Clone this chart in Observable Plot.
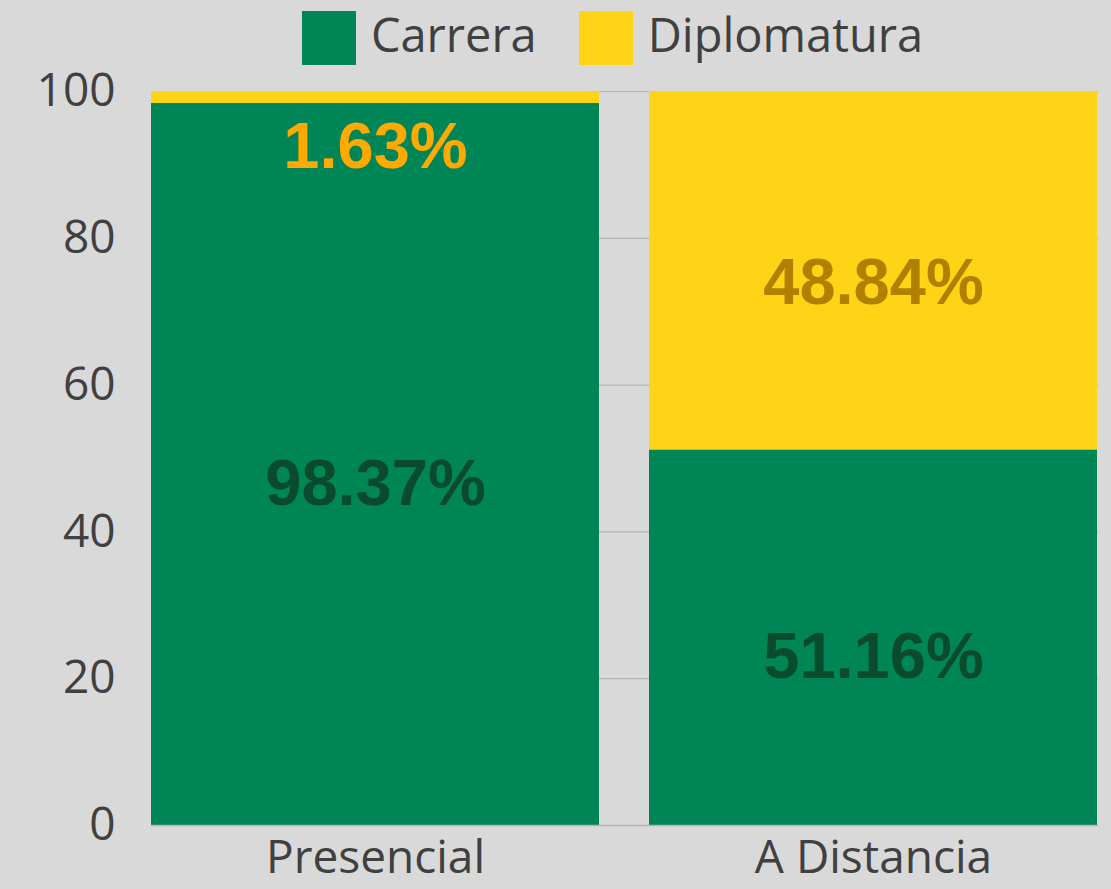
<!DOCTYPE html>
<html>
<head>
<meta charset="utf-8">
<script src="https://cdn.jsdelivr.net/npm/d3@7"></script>
<script src="https://cdn.jsdelivr.net/npm/@observablehq/plot@0.6"></script>
<style>
  html, body { margin: 0; padding: 0; background: #d9d9d9; width: 1111px; height: 889px; overflow: hidden; }
  #wrap { position: relative; width: 1111px; height: 889px; }
  #legend { position: absolute; left: 0; top: 0; width: 1111px; height: 76px; box-sizing: border-box; padding-left: 151px; padding-right: 37px; display: flex; justify-content: center; align-items: center; font-family: "Open Sans", sans-serif; font-size: 47px; color: #404040; z-index: 2; }
  .item { display: flex; align-items: center; }
  .sw { width: 54px; height: 54px; margin-right: 15px; }
  .item + .item { margin-left: 42px; }
  .lbl { position: relative; top: -4px; }
</style>
</head>
<body>
<div id="wrap">
<div id="legend"></div>
<div id="chart"></div>
</div>
<script>
const modes = ["Presencial", "A Distancia"];
const categories = ["Carrera", "Diplomatura"];
const carrera = [98.37, 51.16];
const diplomatura = [1.63, 48.84];
const yTicks = [0, 20, 40, 60, 80, 100];

const colors = {Carrera: "#008556", Diplomatura: "#ffd316"};
const labelColors = {Carrera: "#0a4a2d", Diplomatura: "#b08000"};

const rows = [];
modes.forEach((m, i) => {
  rows.push({mode: m, cat: "Carrera", value: carrera[i]});
  rows.push({mode: m, cat: "Diplomatura", value: diplomatura[i]});
});

// label positions derived from stacked values
const labels = [];
modes.forEach((m, i) => {
  const c = carrera[i], d = diplomatura[i];
  labels.push({mode: m, y: c / 2 - 2.7, text: c.toFixed(2) + "%", color: labelColors.Carrera});
  if (d < 5) {
    labels.push({mode: m, y: c - 6, text: d.toFixed(2) + "%", color: "#ffaa00"});
  } else {
    labels.push({mode: m, y: c + d / 2 - 1.7, text: d.toFixed(2) + "%", color: labelColors.Diplomatura});
  }
});

// legend
const leg = document.getElementById("legend");
categories.forEach(c => {
  const it = document.createElement("div");
  it.className = "item";
  it.innerHTML = `<div class="sw" style="background:${colors[c]}"></div><span class="lbl">${c}</span>`;
  leg.appendChild(it);
});

const chart = Plot.plot({
  width: 1111,
  height: 889,
  marginLeft: 151,
  marginRight: 13,
  marginTop: 91,
  marginBottom: 64,
  style: {background: "#d9d9d9", fontFamily: "Open Sans, sans-serif", color: "#404040"},
  x: {domain: modes, paddingInner: 0.1, paddingOuter: 0, label: null},
  y: {domain: [0, 100], label: null},
  color: {domain: categories, range: categories.map(c => colors[c])},
  marks: [
    Plot.ruleY(yTicks.filter(t => t > 0), {stroke: "#b5b5b5", strokeWidth: 1.2}),
    Plot.barY(rows, {x: "mode", y: "value", fill: "cat"}),
    Plot.ruleY([0], {stroke: "#b5b5b5", strokeWidth: 1.5}),
    Plot.axisY({ticks: yTicks, tickSize: 0, tickPadding: 36, fontSize: 46, fill: "#404040", label: null}),
    Plot.axisX({tickSize: 0, tickPadding: 15, fontSize: 46, fill: "#404040", label: null}),
    Plot.text(labels, {x: "mode", y: "y", text: "text", fill: "color", fontSize: 65, fontWeight: "bold", fontFamily: "Liberation Sans, Arial, sans-serif"})
  ]
});
document.getElementById("chart").appendChild(chart);
</script>
</body>
</html>
